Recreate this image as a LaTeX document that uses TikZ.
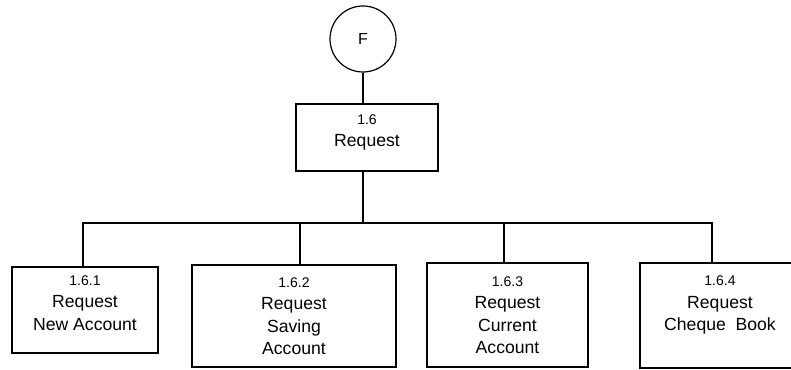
\documentclass[tikz,border=0pt]{standalone}
\usepackage{fontspec}
\setmainfont{Liberation Sans}
\usetikzlibrary{calc}
\newcommand{\procnum}[1]{{\fontsize{14}{22}\selectfont #1}}

\begin{document}
\begin{tikzpicture}[
    x=1pt, y=-1pt,
    every node/.style={draw, line width=1.2pt, inner sep=1pt, align=center, font=\fontsize{17.6}{22.5}\selectfont},
    procbox/.style={rectangle},
    conn/.style={line width=1.2pt}
]
\useasboundingbox (0,0) rectangle (791,369);
\fill[white] (0,0) rectangle (791,369);

\node [circle, minimum size=66pt, font=\fontsize{16}{18}\selectfont] (F) at (363,39) {F};
\node [procbox, minimum width=142pt, minimum height=67pt, text depth=14pt] (req) at (367,137.5) {\procnum{1.6}\\Request};

\node [procbox, minimum width=146pt, minimum height=86pt, text depth=14pt] (acc1) at (85,310) {\procnum{1.6.1}\\Request\\New Account};
\node [procbox, minimum width=204pt, minimum height=102pt] (acc2) at (294,316) {\procnum{1.6.2}\\Request\\Saving\\Account};
\node [procbox, minimum width=161pt, minimum height=104pt] (acc3) at (507.5,315) {\procnum{1.6.3}\\Request\\Current\\Account};
\node [procbox, minimum width=160pt, minimum height=105pt, text depth=24pt] (acc4) at (720,315.5) {\procnum{1.6.4}\\Request\\Cheque\ \ Book};

\coordinate (bus) at (363,223);
\draw[conn] (F.south) -- (F.south |- req.north);
\draw[conn] ([xshift=-4pt]req.south) -- ([xshift=-4pt]req.south |- bus);
\draw[conn] ([xshift=-2pt]acc1.north) |- ([xshift=-8pt]acc4.north |- bus) -- ([xshift=-8pt]acc4.north);
\draw[conn] ([xshift=6pt]acc2.north) -- ([xshift=6pt]acc2.north |- bus);
\draw[conn] ([xshift=-3.5pt]acc3.north) -- ([xshift=-3.5pt]acc3.north |- bus);
\end{tikzpicture}
\end{document}
